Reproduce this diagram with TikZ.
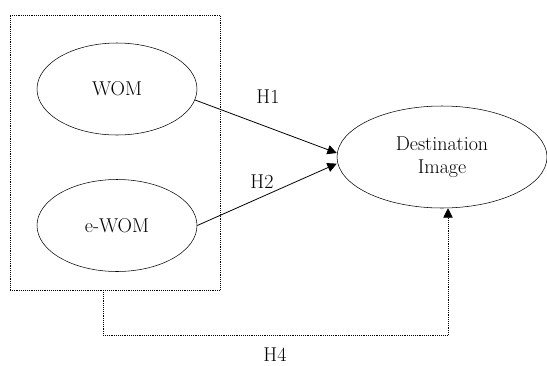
\documentclass[tikz,border=0pt]{standalone}
\usetikzlibrary{shapes.geometric,arrows.meta}
\begin{document}
\begin{tikzpicture}[x=0.75pt,y=-0.75pt,font=\fontsize{15}{17}\selectfont,
	construct/.style={draw,ellipse,inner sep=0pt,minimum width=120pt,minimum height=69pt},
	path/.style={semithick,-{Triangle[length=7pt,width=7pt]}},
	group/.style={draw,densely dotted,inner sep=0pt}]
	\useasboundingbox (0,0) rectangle (547,365);
	\node (grp) [group,minimum width=157.5pt,minimum height=206.25pt] at (115,152.5) {};
	\node (wom) [construct] at (117,89) {WOM};
	\node (ewom) [construct] at (117,225.5) {e-WOM};
	\node (dest) [construct,align=center,minimum width=157.5pt,minimum height=76.5pt] at (442,157) {Destination\\Image};
	\draw[path] (wom.-8) -- ([yshift=3pt]dest.west);
	\draw[path] (ewom.east) -- ([yshift=-5pt]dest.west);
	\node (hone) at (268,97) {H1};
	\node (htwo) at (262,182) {H2};
	% H4 runs below the box
	\coordinate (turn) at (275,335);
	\draw[path,thin,densely dotted] ([xshift=-9pt]grp.south) |- (turn) -| ([xshift=4.5pt]dest.south);
	\node (hfour) at (275,355) {H4};
\end{tikzpicture}
\end{document}
